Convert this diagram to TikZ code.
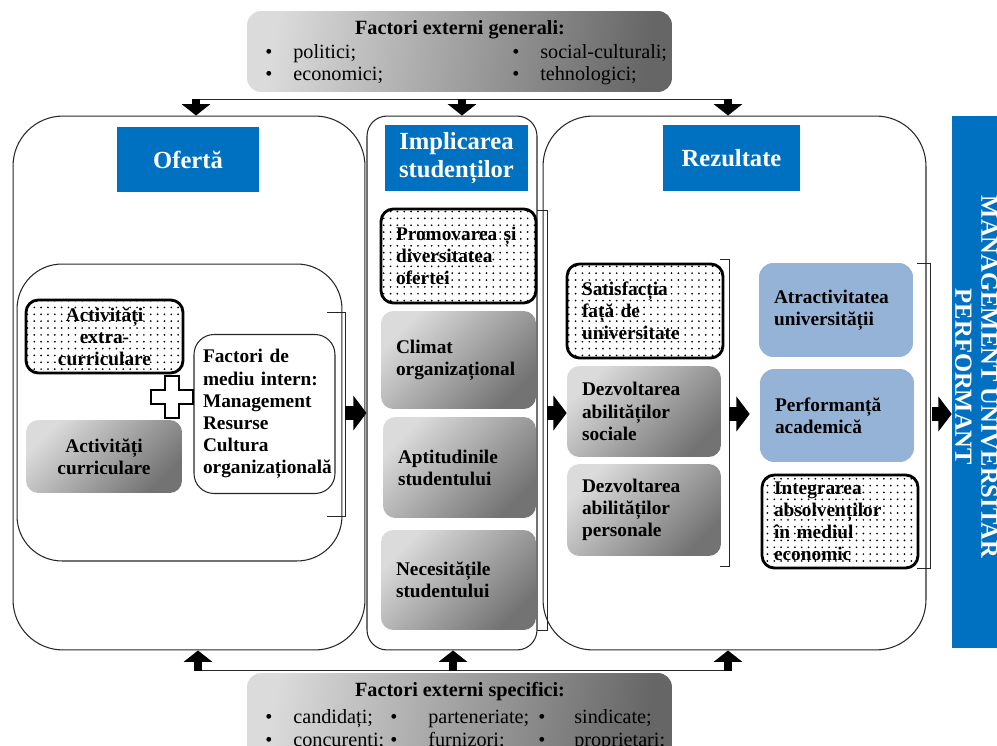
\documentclass[tikz,border=0pt]{standalone}
\usepackage{fontspec}
\setmainfont{Liberation Serif}
\usetikzlibrary{positioning, arrows.meta, patterns.meta}
\definecolor{titleblue}{HTML}{0070C0}
\definecolor{paleblue}{HTML}{95B3D7}
\newcommand{\boxfont}{\fontsize{11}{12.6}\selectfont\bfseries}
\newcommand{\listfont}{\fontsize{11.5}{12.6}\selectfont}
\tikzset{
  txtcell/.style 2 args={minimum width=#1, minimum height=#2, text width=#1-0.6cm, inner xsep=0.3cm, inner ysep=0pt, align=left, font=\boxfont},
  headbox/.style={fill=titleblue, text=white, font=\fontsize{14}{15.5}\selectfont\bfseries, align=center},
  bigbox/.style={draw=black!85, line width=0.6pt},
  greybox/.style={rounded corners=7pt, left color=black!14, right color=black!55, shading angle=45},
  dotbox/.style={draw, line width=1.6pt, rounded corners=7pt, pattern={Dots[distance=3.9pt,radius=0.55pt]}},
  bluebox/.style={fill=paleblue, rounded corners=8pt},
  factbox/.style={rounded corners=8pt, left color=black!14, right color=black!60, shading angle=80},
  brack/.style={draw=black!85, line width=0.5pt},
  plus/.style={draw, line width=1.6pt, fill=white},
  vblock/.style={line width=4.6pt, -{Triangle[width=16pt,length=6.5pt]}},
  hblock/.style={line width=7.4pt, -{Triangle[width=19.5pt,length=7.5pt]}}
}
\begin{document}
\begin{tikzpicture}[x=0.02cm, y=-0.02cm]
\useasboundingbox (0,0) rectangle (997,746);
\clip (0,0) rectangle (997,746);

% external factors, top
\node[factbox, minimum width=8.5cm, minimum height=1.62cm] (gen) at (459.5,51.5) {};
\node[font=\listfont\bfseries] (gentitle) at (460,30) {Factori externi generali:};
\node[font=\listfont, anchor=west, inner sep=0pt] (genlist) at (265,65) {%
  \begin{tabular}{@{}p{0.56cm}@{}p{4.38cm}@{}p{0.56cm}@{}l@{}}
  • & politici; & • & social-culturali;\\
  • & economici; & • & tehnologici;
  \end{tabular}};

% main columns
\node[bigbox, rounded corners=1cm, minimum width=7.04cm, minimum height=10.68cm] (lbox) at (189,383) {};
\node[bigbox, rounded corners=0.4cm, minimum width=3.4cm, minimum height=10.68cm] (mbox) at (452,383) {};
\node[bigbox, rounded corners=1cm, minimum width=7.66cm, minimum height=10.68cm] (rbox) at (734.5,383) {};
\node[fill=titleblue, minimum width=1.0cm, minimum height=10.64cm] (bar) at (977,382) {};
\node[text=white, font=\fontsize{14}{14.8}\selectfont\bfseries, align=center, rotate=-90] (bartext) at (976.5,377) {MANAGEMENT UNIVERSITAR\\PERFORMANT};

\node[headbox, minimum width=2.84cm, minimum height=1.3cm] (ofe) at (188,159.5) {Ofertă};
\node[headbox, minimum width=2.86cm, minimum height=1.32cm] (impl) at (456.5,158) {Implicarea\\studenților};
\node[headbox, minimum width=2.74cm, minimum height=1.32cm] (rez) at (731.5,158) {Rezultate};

% offer
\node[bigbox, rounded corners=0.9cm, minimum width=6.5cm, minimum height=5.94cm] (inner) at (179.5,412.5) {};
\node[dotbox, txtcell={3.14cm}{1.46cm}, align=center] (extra) at (104.5,336.5) {Activități\\extra-\\curriculare};
\node[greybox, txtcell={3.12cm}{1.46cm}, align=center] (curr) at (104,456.5) {Activități\\curriculare};
\node[bigbox, rounded corners=0.4cm, txtcell={2.82cm}{3.18cm}, inner xsep=0.18cm, text width=2.46cm] (mediu) at (264.5,414) {Factori de\\mediu intern:\\Management\\Resurse\\Cultura\\organizațională};
\draw[plus] (165,376) -- ++(14,0) -- ++(0,14) -- ++(14,0) -- ++(0,14) -- ++(-14,0) -- ++(0,14)
  -- ++(-14,0) -- ++(0,-14) -- ++(-14,0) -- ++(0,-14) -- ++(14,0) -- cycle;

% student involvement
\node[dotbox, txtcell={3.1cm}{1.88cm}] (prom) at (458.5,256) {Promovarea și\\diversitatea\\ofertei};
\node[greybox, txtcell={3.1cm}{1.96cm}] (clim) at (458.5,360) {Climat\\organizațional};
\node[greybox, txtcell={3.06cm}{2.02cm}] (apt) at (459.5,467.5) {Aptitudinile\\studentului};
\node[greybox, txtcell={3.1cm}{2.0cm}] (nec) at (458.5,580) {Necesitățile\\studentului};

% results
\node[dotbox, txtcell={3.12cm}{1.88cm}] (sat) at (645,311) {Satisfacția\\față de\\universitate};
\node[greybox, txtcell={3.08cm}{1.82cm}] (dsoc) at (644,411.5) {Dezvoltarea\\abilităților\\sociale};
\node[greybox, txtcell={3.08cm}{1.84cm}] (dpers) at (644,510) {Dezvoltarea\\abilităților\\personale};
\node[bluebox, txtcell={3.08cm}{1.88cm}] (atr) at (836,310) {Atractivitatea\\universității};
\node[bluebox, txtcell={3.08cm}{1.86cm}] (perf) at (837,415.5) {Performanță\\academică};
\node[dotbox, txtcell={3.12cm}{1.86cm}, inner xsep=0.24cm, text width=2.64cm] (integ) at (840,521.5) {Integrarea\\absolvenților\\în mediul\\economic};

% brackets
\draw[brack] (327,312) -- (345,312) -- (345,516) -- (327,516);
\draw[brack] (537,210) -- (547,210) -- (547,630) -- (537,630);
\draw[brack] (720,259) -- (729,259) -- (729,566) -- (720,566);
\draw[brack] (917,263) -- (930,263) -- (930,568) -- (917,568);
\coordinate (b1) at (345,413);
\coordinate (b2) at (547,413);
\coordinate (b3) at (729,414);
\coordinate (b4) at (932,414);

\draw[hblock] (b1) -- (b1 -| mbox.west);
\draw[hblock] (b2) -- (b2 -| dsoc.west);
\draw[hblock] (b3) -- ([xshift=-0.2cm]perf.west |- b3);
\draw[hblock] (b4) -- (b4 -| bar.west);

% arrows from external factors
\coordinate (t1) at (196,99.5);
\coordinate (t2) at (462,99.5);
\coordinate (t3) at (728,99.5);
\draw[bigbox] (t1) -- (t3);
\foreach \c/\b in {t1/lbox, t2/mbox, t3/rbox}
  \draw[vblock] (\c) -- (\c |- \b.north);

\coordinate (u1) at (198,670.5);
\coordinate (u2) at (453,670.5);
\coordinate (u3) at (728,670.5);
\draw[bigbox] (u1) -- (u3);
\foreach \c/\b in {u1/lbox, u2/mbox, u3/rbox}
  \draw[vblock] (\c) -- (\c |- \b.south);

% external factors, bottom
\node[factbox, minimum width=8.5cm, minimum height=1.72cm] (spec) at (459.5,716) {};
\node[font=\listfont\bfseries] (spectitle) at (460,692) {Factori externi specifici:};
\node[font=\listfont, anchor=west, inner sep=0pt] (speclist) at (265,730.5) {%
  \begin{tabular}{@{}p{0.56cm}@{}p{1.94cm}@{}p{0.76cm}@{}p{2.2cm}@{}p{0.72cm}@{}l@{}}
  • & candidați; & • & parteneriate; & • & sindicate;\\
  • & concurenți; & • & furnizori; & • & proprietari;
  \end{tabular}};
\end{tikzpicture}
\end{document}
